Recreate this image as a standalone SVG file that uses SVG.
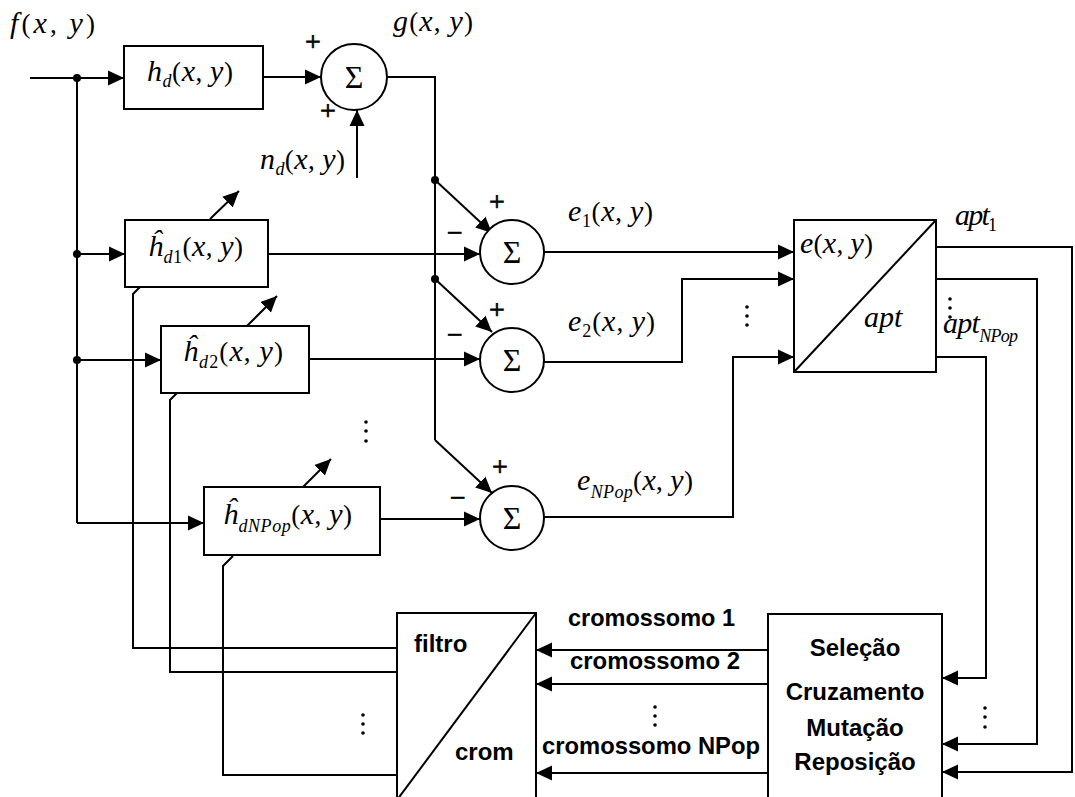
<svg xmlns="http://www.w3.org/2000/svg" width="1075" height="797" viewBox="0 0 1075 797">
  <style>
    .ln { fill: none; stroke: #000; stroke-width: 2; }
    .blk { fill: #fff; stroke: #000; stroke-width: 2; }
    .arr { marker-end: url(#ah); }
    .m { font-family: "Liberation Serif", "Times New Roman", serif; font-size: 27px; fill: #000; }
    .i { font-style: italic; font-size: 30px; }
    .sub { font-style: italic; font-size: 18px; }
    .sn { font-style: normal; font-size: 18px; }
    .sg { font-family: "Liberation Serif", serif; font-size: 32px; text-anchor: middle; fill: #000; }
    .pm { font-family: "Liberation Serif", serif; font-size: 28px; text-anchor: middle; fill: #000; stroke: #000; stroke-width: 0.7; }
    .b { font-family: "Liberation Sans", Arial, sans-serif; font-weight: bold; font-size: 24px; fill: #000; }
    .bc { text-anchor: middle; }
    .dot { fill: #000; }
  </style>
  <defs>
    <marker id="ah" markerUnits="userSpaceOnUse" markerWidth="17" markerHeight="16" refX="16" refY="8" orient="auto">
      <path d="M0,0.5 L16,8 L0,15.5 z" fill="#000"/>
    </marker>
  </defs>

  <!-- connectors -->
  <g id="connectors">
    <!-- input f(x,y) and its distribution bus -->
    <path class="ln arr" d="M30,78 H124"/>
    <path class="ln" d="M77,78 V523"/>
    <path class="ln arr" d="M77,254 H125"/>
    <path class="ln arr" d="M77,360 H161"/>
    <path class="ln arr" d="M77,523 H204"/>
    <!-- degradation path -->
    <path class="ln arr" d="M263,77 H321"/>
    <path class="ln arr" d="M357,178 V110"/>
    <!-- g(x,y) bus -->
    <path class="ln" d="M388,77 H435 V440"/>
    <path class="ln arr" d="M435,180 L492,233"/>
    <path class="ln arr" d="M435,279 L492,332"/>
    <path class="ln arr" d="M435,440 L492,493"/>
    <!-- estimated filter outputs -->
    <path class="ln arr" d="M268,254 H480"/>
    <path class="ln arr" d="M309,359 H480"/>
    <path class="ln arr" d="M380,519 H480"/>
    <!-- adaptation arrows -->
    <path class="ln arr" d="M210,219 L239,191"/>
    <path class="ln arr" d="M247,326 L277,296"/>
    <path class="ln arr" d="M303,487 L331,459"/>
    <!-- errors into fitness block -->
    <path class="ln arr" d="M544,252 H794"/>
    <path class="ln arr" d="M544,362 H682 V279 H794"/>
    <path class="ln arr" d="M544,517 H733 V357 H794"/>
    <!-- fitness values into GA block -->
    <path class="ln arr" d="M936,247 H1072 V772 H942"/>
    <path class="ln arr" d="M936,279 H1037 V744 H942"/>
    <path class="ln arr" d="M936,357 H986 V678 H942"/>
    <!-- chromosomes into filter/chromosome block -->
    <path class="ln arr" d="M768,650 H536"/>
    <path class="ln arr" d="M768,684 H536"/>
    <path class="ln arr" d="M768,773 H536"/>
    <!-- filter coefficients back to estimators -->
    <path class="ln" d="M140,287 L133,294 V648 H397"/>
    <path class="ln" d="M177,393 L170,400 V672 H397"/>
    <path class="ln" d="M233,556 L223,566 V775 H397"/>
    <!-- junction dots -->
    <circle class="dot" cx="77" cy="78" r="4"/>
    <circle class="dot" cx="77" cy="254" r="4"/>
    <circle class="dot" cx="77" cy="360" r="4"/>
    <circle class="dot" cx="435" cy="180" r="4"/>
    <circle class="dot" cx="435" cy="279" r="4"/>
  </g>

  <!-- degradation filter -->
  <g id="hd">
    <rect class="blk" x="124" y="46" width="139" height="63"/>
    <text class="m" x="147" y="81" textLength="86" lengthAdjust="spacing"><tspan class="i">h</tspan><tspan class="sub" dy="6">d</tspan><tspan dy="-6">(</tspan><tspan class="i">x</tspan>, <tspan class="i">y</tspan>)</text>
  </g>

  <!-- degradation adder -->
  <g id="sum0">
    <circle class="blk" cx="354" cy="77" r="33"/>
    <text class="sg" x="354" y="88">Σ</text>
    <text class="pm" x="313" y="51">+</text>
    <text class="pm" x="328" y="120">+</text>
  </g>

  <!-- signal labels -->
  <g id="labels">
    <text class="m" x="10" y="33" textLength="85" lengthAdjust="spacing"><tspan class="i">f</tspan>(<tspan class="i">x</tspan>, <tspan class="i">y</tspan>)</text>
    <text class="m" x="393" y="31" textLength="80" lengthAdjust="spacing"><tspan class="i">g</tspan>(<tspan class="i">x</tspan>, <tspan class="i">y</tspan>)</text>
    <text class="m" x="260" y="169" textLength="85" lengthAdjust="spacing"><tspan class="i">n</tspan><tspan class="sub" dy="6">d</tspan><tspan dy="-6">(</tspan><tspan class="i">x</tspan>, <tspan class="i">y</tspan>)</text>
    <text class="m" x="568" y="221" textLength="85" lengthAdjust="spacing"><tspan class="i">e</tspan><tspan class="sn" dy="6">1</tspan><tspan dy="-6">(</tspan><tspan class="i">x</tspan>, <tspan class="i">y</tspan>)</text>
    <text class="m" x="568" y="331" textLength="87" lengthAdjust="spacing"><tspan class="i">e</tspan><tspan class="sn" dy="6">2</tspan><tspan dy="-6">(</tspan><tspan class="i">x</tspan>, <tspan class="i">y</tspan>)</text>
    <text class="m" x="577" y="490" textLength="116" lengthAdjust="spacing"><tspan class="i">e</tspan><tspan class="sub" dy="8">NPop</tspan><tspan dy="-8">(</tspan><tspan class="i">x</tspan>, <tspan class="i">y</tspan>)</text>
    <text class="m" x="955" y="225" textLength="42" lengthAdjust="spacing"><tspan class="i">apt</tspan><tspan class="sn" dy="6">1</tspan></text>
    <text class="m" x="943" y="333" textLength="75" lengthAdjust="spacing"><tspan class="i">apt</tspan><tspan class="sub" dy="9">NPop</tspan></text>
    <circle class="dot" cx="950" cy="299" r="1.8"/>
    <circle class="dot" cx="950" cy="308" r="1.8"/>
    <circle class="dot" cx="950" cy="317" r="1.8"/>
    <!-- continuation dots -->
    <circle class="dot" cx="747" cy="307" r="1.8"/>
    <circle class="dot" cx="747" cy="316" r="1.8"/>
    <circle class="dot" cx="747" cy="325" r="1.8"/>
    <circle class="dot" cx="366" cy="422" r="1.8"/>
    <circle class="dot" cx="366" cy="431" r="1.8"/>
    <circle class="dot" cx="366" cy="441" r="1.8"/>
    <circle class="dot" cx="363" cy="715" r="1.8"/>
    <circle class="dot" cx="363" cy="724" r="1.8"/>
    <circle class="dot" cx="363" cy="733" r="1.8"/>
    <circle class="dot" cx="655" cy="707" r="1.8"/>
    <circle class="dot" cx="655" cy="716" r="1.8"/>
    <circle class="dot" cx="655" cy="725" r="1.8"/>
    <circle class="dot" cx="985" cy="708" r="1.8"/>
    <circle class="dot" cx="985" cy="717" r="1.8"/>
    <circle class="dot" cx="985" cy="727" r="1.8"/>
    <!-- chromosome labels -->
    <text class="b" x="568" y="626" textLength="167" lengthAdjust="spacingAndGlyphs">cromossomo 1</text>
    <text class="b" x="570" y="669" textLength="170" lengthAdjust="spacingAndGlyphs">cromossomo 2</text>
    <text class="b" x="542" y="754" textLength="218" lengthAdjust="spacingAndGlyphs">cromossomo NPop</text>
  </g>

  <!-- estimated filters -->
  <g id="hd1">
    <rect class="blk" x="125" y="220" width="143" height="67"/>
    <text class="m" x="148" y="256" textLength="95" lengthAdjust="spacing"><tspan class="i">ĥ</tspan><tspan class="sub" dy="7">d</tspan><tspan class="sn">1</tspan><tspan dy="-7">(</tspan><tspan class="i">x</tspan>, <tspan class="i">y</tspan>)</text>
  </g>
  <g id="hd2">
    <rect class="blk" x="161" y="326" width="148" height="67"/>
    <text class="m" x="183" y="361" textLength="100" lengthAdjust="spacing"><tspan class="i">ĥ</tspan><tspan class="sub" dy="7">d</tspan><tspan class="sn">2</tspan><tspan dy="-7">(</tspan><tspan class="i">x</tspan>, <tspan class="i">y</tspan>)</text>
  </g>
  <g id="hdNPop">
    <rect class="blk" x="204" y="487" width="176" height="68"/>
    <text class="m" x="223" y="524" textLength="129" lengthAdjust="spacing"><tspan class="i">ĥ</tspan><tspan class="sub" dy="8">dNPop</tspan><tspan dy="-8">(</tspan><tspan class="i">x</tspan>, <tspan class="i">y</tspan>)</text>
  </g>

  <!-- error adders -->
  <g id="sum1">
    <circle class="blk" cx="512" cy="252" r="32"/>
    <text class="sg" x="512" y="263">Σ</text>
    <text class="pm" x="497" y="211">+</text>
    <text class="pm" x="455" y="242">−</text>
  </g>
  <g id="sum2">
    <circle class="blk" cx="512" cy="360" r="32"/>
    <text class="sg" x="512" y="371">Σ</text>
    <text class="pm" x="497" y="319">+</text>
    <text class="pm" x="455" y="344">−</text>
  </g>
  <g id="sumNPop">
    <circle class="blk" cx="512" cy="518" r="32"/>
    <text class="sg" x="512" y="529">Σ</text>
    <text class="pm" x="500" y="476">+</text>
    <text class="pm" x="458" y="507">−</text>
  </g>

  <!-- fitness evaluation block -->
  <g id="fitness">
    <rect class="blk" x="794" y="220" width="142" height="152"/>
    <path class="ln" d="M794,372 L936,220"/>
    <text class="m" x="800" y="253" textLength="73" lengthAdjust="spacing"><tspan class="i">e</tspan>(<tspan class="i">x</tspan>, <tspan class="i">y</tspan>)</text>
    <text class="m i" x="864" y="327">apt</text>
  </g>

  <!-- filter / chromosome mapping block -->
  <g id="mapping">
    <rect class="blk" x="397" y="613" width="139" height="200"/>
    <path class="ln" d="M397,800 L536,613"/>
    <text class="b" x="414" y="652">filtro</text>
    <text class="b" x="455" y="760">crom</text>
  </g>

  <!-- genetic operators block -->
  <g id="ga">
    <rect class="blk" x="768" y="614" width="174" height="200"/>
    <text class="b bc" x="855" y="656">Seleção</text>
    <text class="b bc" x="855" y="700">Cruzamento</text>
    <text class="b bc" x="855" y="736">Mutação</text>
    <text class="b bc" x="855" y="770">Reposição</text>
  </g>
</svg>
